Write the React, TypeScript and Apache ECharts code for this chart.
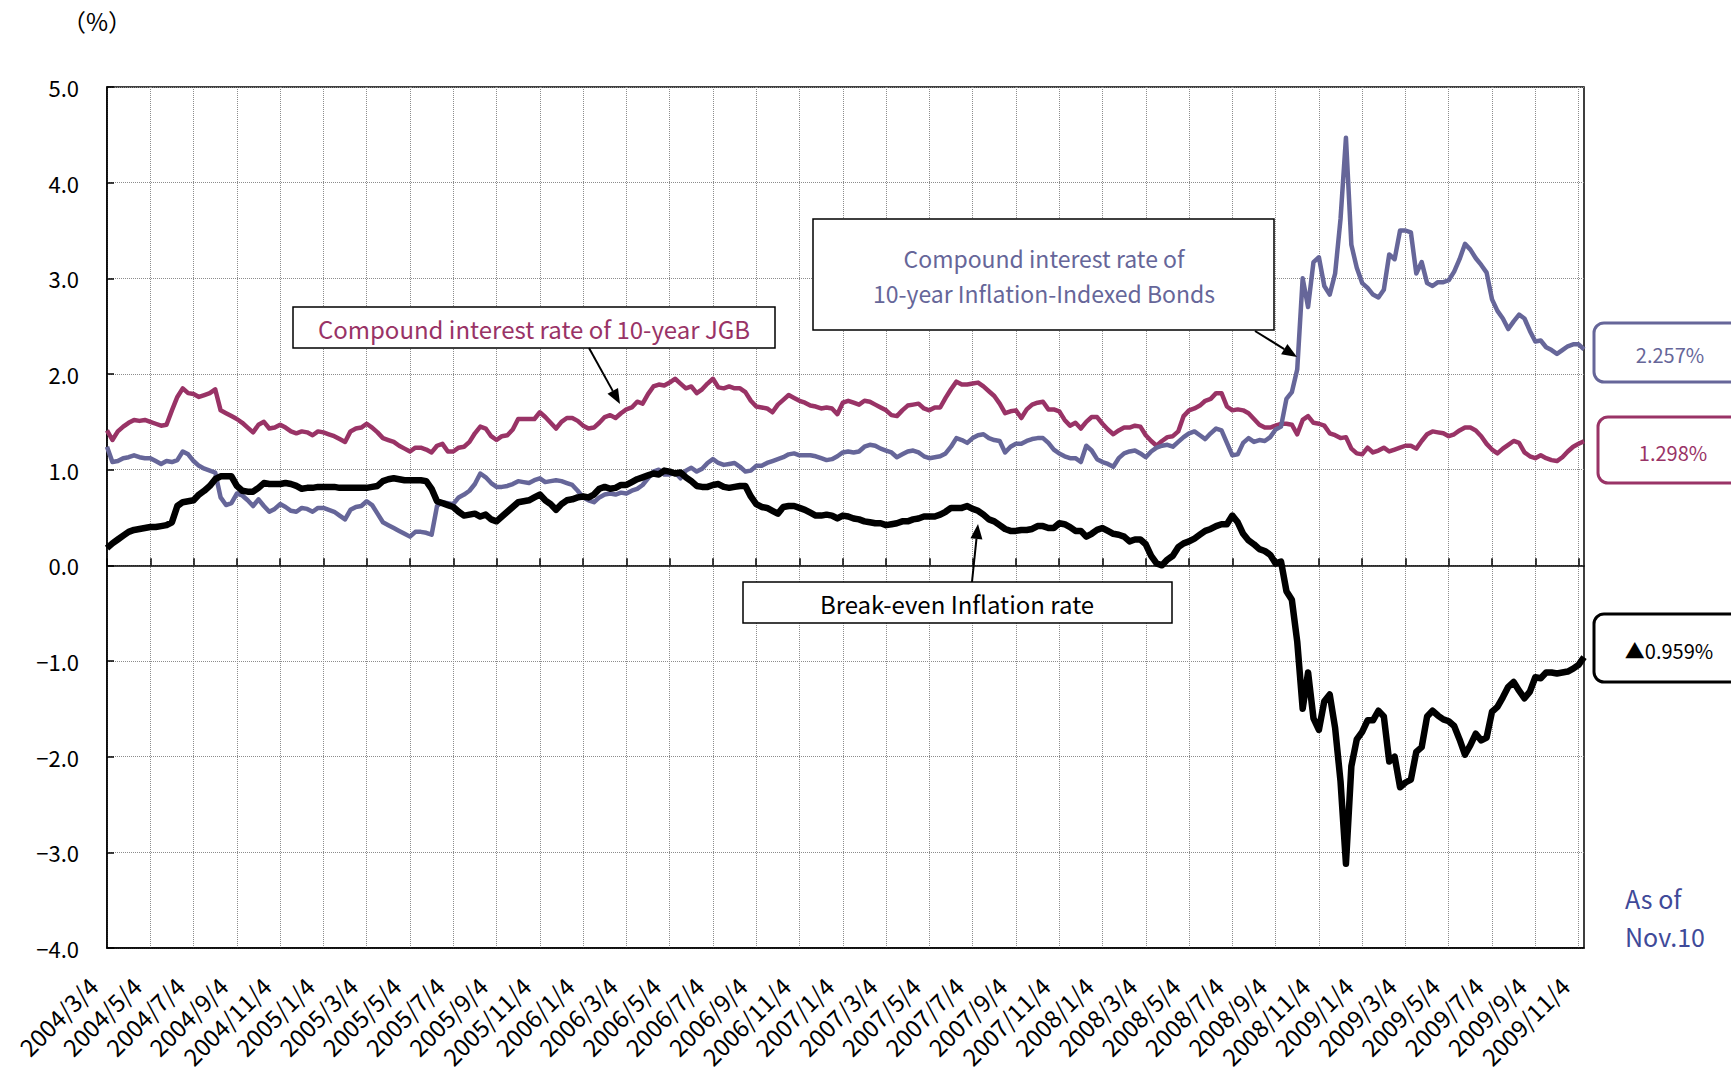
import React, { useEffect, useRef } from 'react';
import * as echarts from 'echarts';

const TICK_LABELS = [
  '2004/3/4', '2004/5/4', '2004/7/4', '2004/9/4', '2004/11/4',
  '2005/1/4', '2005/3/4', '2005/5/4', '2005/7/4', '2005/9/4', '2005/11/4',
  '2006/1/4', '2006/3/4', '2006/5/4', '2006/7/4', '2006/9/4', '2006/11/4',
  '2007/1/4', '2007/3/4', '2007/5/4', '2007/7/4', '2007/9/4', '2007/11/4',
  '2008/1/4', '2008/3/4', '2008/5/4', '2008/7/4', '2008/9/4', '2008/11/4',
  '2009/1/4', '2009/3/4', '2009/5/4', '2009/7/4', '2009/9/4', '2009/11/4',
];
const WEEK_DAYS = [4, 11, 18, 25];
const LAST_DATE = '2009/11/10';

// Compound interest rate of 10-year JGB (%), weekly readings
const JGB = [
  1.41, 1.31, 1.40, 1.45, 1.49, 1.52, 1.51, 1.52,
  1.50, 1.48, 1.46, 1.47, 1.62, 1.76, 1.85, 1.80,
  1.79, 1.76, 1.78, 1.80, 1.84, 1.62, 1.59, 1.56,
  1.53, 1.49, 1.44, 1.39, 1.47, 1.50, 1.43, 1.44,
  1.47, 1.44, 1.40, 1.38, 1.40, 1.39, 1.36, 1.40,
  1.39, 1.37, 1.35, 1.32, 1.29, 1.40, 1.43, 1.44,
  1.48, 1.44, 1.39, 1.33, 1.31, 1.29, 1.25, 1.22,
  1.19, 1.23, 1.23, 1.21, 1.18, 1.25, 1.27, 1.19,
  1.19, 1.23, 1.24, 1.29, 1.38, 1.45, 1.43, 1.35,
  1.31, 1.35, 1.36, 1.42, 1.53, 1.53, 1.53, 1.53,
  1.60, 1.55, 1.49, 1.43, 1.50, 1.54, 1.54, 1.51,
  1.46, 1.43, 1.44, 1.49, 1.55, 1.57, 1.54, 1.59,
  1.63, 1.65, 1.71, 1.69, 1.79, 1.87, 1.89, 1.88,
  1.91, 1.95, 1.90, 1.85, 1.87, 1.80, 1.84, 1.90,
  1.95, 1.86, 1.85, 1.87, 1.85, 1.85, 1.81, 1.72,
  1.66, 1.65, 1.64, 1.60, 1.68, 1.73, 1.78, 1.75,
  1.72, 1.70, 1.67, 1.66, 1.64, 1.65, 1.64, 1.58,
  1.70, 1.72, 1.70, 1.68, 1.72, 1.71, 1.68, 1.65,
  1.62, 1.57, 1.56, 1.62, 1.67, 1.68, 1.69, 1.64,
  1.62, 1.65, 1.65, 1.75, 1.84, 1.92, 1.89, 1.89,
  1.90, 1.91, 1.87, 1.82, 1.77, 1.69, 1.59, 1.61,
  1.62, 1.54, 1.63, 1.68, 1.70, 1.71, 1.63, 1.63,
  1.61, 1.52, 1.46, 1.49, 1.43, 1.50, 1.55, 1.55,
  1.48, 1.42, 1.37, 1.41, 1.44, 1.44, 1.46, 1.45,
  1.36, 1.30, 1.25, 1.30, 1.34, 1.35, 1.40, 1.56,
  1.62, 1.64, 1.67, 1.72, 1.74, 1.80, 1.80, 1.66,
  1.62, 1.63, 1.62, 1.59, 1.53, 1.47, 1.44, 1.44,
  1.46, 1.48, 1.48, 1.47, 1.37, 1.52, 1.56, 1.49,
  1.48, 1.46, 1.38, 1.36, 1.33, 1.34, 1.22, 1.17,
  1.16, 1.23, 1.18, 1.20, 1.23, 1.19, 1.21, 1.23,
  1.25, 1.25, 1.22, 1.30, 1.37, 1.40, 1.39, 1.38,
  1.35, 1.37, 1.41, 1.44, 1.44, 1.41, 1.35, 1.27,
  1.21, 1.17, 1.22, 1.26, 1.30, 1.28, 1.18, 1.14,
  1.12, 1.15, 1.12, 1.10, 1.09, 1.13, 1.19, 1.24,
  1.27, 1.298,
];

// Compound interest rate of 10-year Inflation-Indexed Bonds (%)
const JII = [
  1.24, 1.08, 1.09, 1.12, 1.13, 1.15, 1.13, 1.12,
  1.12, 1.09, 1.06, 1.09, 1.08, 1.10, 1.19, 1.16,
  1.09, 1.04, 1.01, 0.99, 0.97, 0.71, 0.63, 0.65,
  0.75, 0.73, 0.68, 0.62, 0.69, 0.62, 0.56, 0.59,
  0.64, 0.61, 0.57, 0.56, 0.60, 0.59, 0.56, 0.60,
  0.60, 0.58, 0.56, 0.52, 0.48, 0.58, 0.61, 0.62,
  0.67, 0.63, 0.54, 0.45, 0.42, 0.39, 0.36, 0.33,
  0.30, 0.35, 0.35, 0.34, 0.32, 0.62, 0.66, 0.65,
  0.64, 0.71, 0.74, 0.78, 0.85, 0.96, 0.92, 0.86,
  0.82, 0.82, 0.83, 0.85, 0.88, 0.87, 0.86, 0.89,
  0.91, 0.87, 0.88, 0.89, 0.88, 0.86, 0.84, 0.78,
  0.71, 0.68, 0.66, 0.71, 0.74, 0.75, 0.74, 0.76,
  0.75, 0.78, 0.80, 0.84, 0.91, 0.98, 1.00, 0.95,
  0.95, 0.97, 0.91, 0.99, 1.02, 0.98, 1.01, 1.07,
  1.11, 1.07, 1.05, 1.06, 1.07, 1.03, 0.98, 0.99,
  1.04, 1.04, 1.07, 1.09, 1.11, 1.13, 1.16, 1.17,
  1.15, 1.15, 1.15, 1.14, 1.12, 1.10, 1.11, 1.14,
  1.18, 1.19, 1.18, 1.19, 1.24, 1.26, 1.25, 1.22,
  1.20, 1.18, 1.13, 1.16, 1.19, 1.20, 1.18, 1.14,
  1.12, 1.13, 1.14, 1.17, 1.24, 1.33, 1.31, 1.28,
  1.33, 1.36, 1.37, 1.33, 1.31, 1.30, 1.18, 1.24,
  1.27, 1.27, 1.30, 1.32, 1.33, 1.33, 1.28, 1.21,
  1.17, 1.14, 1.12, 1.12, 1.08, 1.25, 1.20, 1.11,
  1.08, 1.06, 1.03, 1.12, 1.17, 1.19, 1.20, 1.17,
  1.13, 1.19, 1.23, 1.25, 1.26, 1.24, 1.29, 1.34,
  1.38, 1.40, 1.36, 1.32, 1.38, 1.43, 1.41, 1.28,
  1.15, 1.16, 1.28, 1.33, 1.29, 1.31, 1.30, 1.34,
  1.42, 1.45, 1.74, 1.81, 2.05, 3.00, 2.70, 3.17,
  3.22, 2.92, 2.83, 3.05, 3.62, 4.47, 3.35, 3.11,
  2.95, 2.90, 2.83, 2.80, 2.88, 3.25, 3.20, 3.50,
  3.50, 3.48, 3.05, 3.17, 2.95, 2.92, 2.96, 2.96,
  2.98, 3.07, 3.20, 3.36, 3.30, 3.21, 3.14, 3.06,
  2.78, 2.66, 2.58, 2.47, 2.55, 2.62, 2.58, 2.45,
  2.34, 2.35, 2.28, 2.25, 2.21, 2.25, 2.29, 2.31,
  2.31, 2.257,
];

// Break-even Inflation rate (%)
const BEI = [
  0.18, 0.23, 0.27, 0.31, 0.35, 0.37, 0.38, 0.39,
  0.40, 0.40, 0.41, 0.42, 0.45, 0.62, 0.66, 0.67,
  0.68, 0.74, 0.78, 0.83, 0.90, 0.93, 0.93, 0.93,
  0.83, 0.78, 0.77, 0.77, 0.81, 0.86, 0.85, 0.85,
  0.85, 0.86, 0.85, 0.83, 0.80, 0.81, 0.81, 0.82,
  0.82, 0.82, 0.82, 0.81, 0.81, 0.81, 0.81, 0.81,
  0.81, 0.82, 0.83, 0.88, 0.90, 0.91, 0.90, 0.89,
  0.89, 0.89, 0.89, 0.88, 0.80, 0.67, 0.65, 0.63,
  0.61, 0.56, 0.52, 0.53, 0.54, 0.51, 0.53, 0.48,
  0.46, 0.51, 0.56, 0.61, 0.66, 0.67, 0.68, 0.71,
  0.74, 0.68, 0.64, 0.58, 0.64, 0.68, 0.69, 0.71,
  0.72, 0.71, 0.74, 0.80, 0.82, 0.80, 0.81, 0.84,
  0.84, 0.87, 0.90, 0.92, 0.94, 0.96, 0.95, 0.99,
  0.98, 0.96, 0.97, 0.92, 0.88, 0.83, 0.82, 0.82,
  0.84, 0.85, 0.82, 0.81, 0.82, 0.83, 0.83, 0.72,
  0.64, 0.61, 0.60, 0.57, 0.54, 0.61, 0.62, 0.62,
  0.60, 0.58, 0.55, 0.52, 0.52, 0.53, 0.52, 0.49,
  0.52, 0.51, 0.49, 0.48, 0.46, 0.45, 0.44, 0.44,
  0.42, 0.43, 0.44, 0.46, 0.46, 0.48, 0.49, 0.51,
  0.51, 0.51, 0.53, 0.56, 0.60, 0.60, 0.60, 0.62,
  0.59, 0.57, 0.53, 0.48, 0.46, 0.42, 0.38, 0.36,
  0.36, 0.37, 0.37, 0.38, 0.41, 0.41, 0.39, 0.39,
  0.44, 0.43, 0.40, 0.36, 0.36, 0.30, 0.33, 0.37,
  0.39, 0.36, 0.33, 0.32, 0.30, 0.25, 0.27, 0.27,
  0.22, 0.10, 0.02, 0.00, 0.06, 0.10, 0.19, 0.23,
  0.25, 0.28, 0.32, 0.36, 0.38, 0.41, 0.43, 0.43,
  0.52, 0.45, 0.33, 0.26, 0.22, 0.17, 0.15, 0.11,
  0.02, 0.04, -0.27, -0.36, -0.80, -1.50, -1.12, -1.60,
  -1.72, -1.42, -1.35, -1.70, -2.26, -3.12, -2.10, -1.82,
  -1.74, -1.62, -1.62, -1.52, -1.58, -2.05, -2.00, -2.32,
  -2.27, -2.24, -1.95, -1.90, -1.58, -1.52, -1.57, -1.61,
  -1.63, -1.68, -1.82, -1.98, -1.88, -1.76, -1.83, -1.80,
  -1.53, -1.48, -1.38, -1.27, -1.22, -1.31, -1.39, -1.32,
  -1.17, -1.18, -1.12, -1.12, -1.13, -1.12, -1.11, -1.08,
  -1.04, -0.959,
];

const LATEST_JII = '2.257%';
const LATEST_JGB = '1.298%';
const LATEST_BEI = '▲0.959%';

const C_JGB = '#993366';
const C_JII = '#666699';
const C_BEI = '#000000';
const FONT = '"Noto Sans CJK JP", "Noto Sans", sans-serif';

function buildCategories(): string[] {
  const cats: string[] = [];
  for (let i = 0; i < TICK_LABELS.length - 1; i++) {
    const [y, m] = TICK_LABELS[i].split('/').map(Number);
    for (let s = 0; s < 2; s++) {
      let mm = m + s;
      let yy = y;
      if (mm > 12) { mm -= 12; yy += 1; }
      for (const d of WEEK_DAYS) cats.push(`${yy}/${mm}/${d}`);
    }
  }
  cats.push(TICK_LABELS[TICK_LABELS.length - 1]);
  cats.push(LAST_DATE);
  return cats;
}

function arrow(x1: number, y1: number, x2: number, y2: number, color: string) {
  const ang = Math.atan2(y2 - y1, x2 - x1);
  const len = 15;
  const half = 6;
  const bx = x2 - len * Math.cos(ang);
  const by = y2 - len * Math.sin(ang);
  const px = -Math.sin(ang) * half;
  const py = Math.cos(ang) * half;
  return [
    { type: 'line', z: 100, shape: { x1, y1, x2: bx, y2: by }, style: { stroke: color, lineWidth: 2 } },
    {
      type: 'polygon', z: 100,
      shape: { points: [[x2, y2], [bx + px, by + py], [bx - px, by - py]] },
      style: { fill: color },
    },
  ];
}

export default function App() {
  const ref = useRef<HTMLDivElement>(null);
  useEffect(() => {
    document.body.style.margin = '0';
    if (!ref.current) return;
    const chart = echarts.init(ref.current, null, { renderer: 'svg' });
    const cats = buildCategories();
    const gridLine = { color: '#8c8c8c', type: 'dotted' as const, width: 1 };
    const option: any = {
      animation: false,
      backgroundColor: '#ffffff',
      textStyle: { fontFamily: FONT },
      grid: {
        left: 107, right: 147, top: 87, bottom: 124,
        show: true, borderColor: '#000', borderWidth: 1.5, backgroundColor: 'transparent',
      },
      xAxis: [
        {
          type: 'category', data: cats, boundaryGap: false, position: 'bottom',
          axisLine: { onZero: false, lineStyle: { color: '#000', width: 1.5 } },
          axisTick: { show: false },
          axisLabel: {
            interval: 7, rotate: 45, fontSize: 24, color: '#000', margin: 19, fontFamily: FONT,
            padding: [0, 20, 0, 0],
          },
          splitLine: { show: true, interval: 7, lineStyle: gridLine },
        },
        {
          type: 'category', data: cats, boundaryGap: false, position: 'bottom',
          axisLine: { onZero: true, lineStyle: { color: '#000', width: 1.5 } },
          axisTick: { show: true, inside: true, length: 7, interval: 7, lineStyle: { color: '#000', width: 1.5 } },
          axisLabel: { show: false },
          splitLine: { show: false },
        },
      ],
      yAxis: {
        type: 'value', min: -4, max: 5, interval: 1,
        axisLine: { show: true, lineStyle: { color: '#000', width: 1.5 } },
        axisTick: { show: true, inside: true, length: 7, lineStyle: { color: '#000', width: 1.5 } },
        axisLabel: {
          formatter: (v: number) => v.toFixed(1).replace('-', '−'),
          fontSize: 22, color: '#000', margin: 28, fontFamily: FONT,
        },
        splitLine: { show: true, lineStyle: gridLine },
      },
      series: [
        {
          name: 'Compound interest rate of 10-year JGB', type: 'line', data: JGB, symbol: 'none',
          lineStyle: { color: C_JGB, width: 4.5, join: 'round' }, itemStyle: { color: C_JGB }, z: 3,
        },
        {
          name: 'Compound interest rate of 10-year Inflation-Indexed Bonds', type: 'line', data: JII, symbol: 'none',
          lineStyle: { color: C_JII, width: 4.5, join: 'round' }, itemStyle: { color: C_JII }, z: 4,
        },
        {
          name: 'Break-even Inflation rate', type: 'line', data: BEI, symbol: 'none',
          lineStyle: { color: C_BEI, width: 6.5, join: 'round' }, itemStyle: { color: C_BEI }, z: 5,
        },
      ],
      graphic: [
        {
          type: 'text', left: 62, top: 8,
          style: { text: '（%）', fontSize: 24, fill: '#000', fontFamily: FONT },
        },
        // JGB label box
        {
          type: 'rect', z: 100, shape: { x: 293, y: 307, width: 482, height: 41 },
          style: { fill: '#fff', stroke: '#000', lineWidth: 1.5 },
        },
        {
          type: 'text', z: 101, x: 534, y: 328,
          style: {
            text: 'Compound interest rate of 10-year JGB', fill: C_JGB, fontSize: 24,
            fontFamily: FONT, align: 'center', verticalAlign: 'middle',
          },
        },
        ...arrow(589, 348, 620, 404, '#000'),
        // JII label box
        {
          type: 'rect', z: 100, shape: { x: 813, y: 219, width: 461, height: 111 },
          style: { fill: '#fff', stroke: '#000', lineWidth: 1.5 },
        },
        {
          type: 'text', z: 101, x: 1044, y: 258,
          style: {
            text: 'Compound interest rate of', fill: C_JII, fontSize: 23,
            fontFamily: FONT, align: 'center', verticalAlign: 'middle',
          },
        },
        {
          type: 'text', z: 101, x: 1044, y: 293,
          style: {
            text: '10-year Inflation-Indexed Bonds', fill: C_JII, fontSize: 23,
            fontFamily: FONT, align: 'center', verticalAlign: 'middle',
          },
        },
        ...arrow(1255, 331, 1297, 357, '#000'),
        // BEI label box
        {
          type: 'rect', z: 100, shape: { x: 743, y: 582, width: 429, height: 41 },
          style: { fill: '#fff', stroke: '#000', lineWidth: 1.5 },
        },
        {
          type: 'text', z: 101, x: 957, y: 603,
          style: {
            text: 'Break-even Inflation rate', fill: '#000', fontSize: 24,
            fontFamily: FONT, align: 'center', verticalAlign: 'middle',
          },
        },
        ...arrow(972, 582, 978, 524, '#000'),
        // Latest value boxes
        {
          type: 'rect', z: 100, shape: { x: 1594, y: 323, width: 190, height: 59, r: 10 },
          style: { fill: '#fff', stroke: C_JII, lineWidth: 3 },
        },
        {
          type: 'text', z: 101, x: 1670, y: 354,
          style: { text: LATEST_JII, fill: C_JII, fontSize: 20, fontFamily: FONT, align: 'center', verticalAlign: 'middle' },
        },
        {
          type: 'rect', z: 100, shape: { x: 1598, y: 417, width: 190, height: 66, r: 10 },
          style: { fill: '#fff', stroke: C_JGB, lineWidth: 3 },
        },
        {
          type: 'text', z: 101, x: 1673, y: 452,
          style: { text: LATEST_JGB, fill: C_JGB, fontSize: 20, fontFamily: FONT, align: 'center', verticalAlign: 'middle' },
        },
        {
          type: 'rect', z: 100, shape: { x: 1594, y: 614, width: 190, height: 68, r: 10 },
          style: { fill: '#fff', stroke: '#000', lineWidth: 3 },
        },
        {
          type: 'text', z: 101, x: 1669, y: 650,
          style: { text: LATEST_BEI, fill: '#000', fontSize: 20, fontFamily: FONT, align: 'center', verticalAlign: 'middle' },
        },
        {
          type: 'text', z: 101, left: 1625, top: 885,
          style: { text: 'As of', fill: '#3F4A99', fontSize: 25, fontFamily: FONT },
        },
        {
          type: 'text', z: 101, left: 1625, top: 923,
          style: { text: 'Nov.10', fill: '#3F4A99', fontSize: 25, fontFamily: FONT },
        },
      ],
    };
    chart.setOption(option);
    return () => chart.dispose();
  }, []);
  return <div ref={ref} style={{ width: 1731, height: 1072 }} />;
}
